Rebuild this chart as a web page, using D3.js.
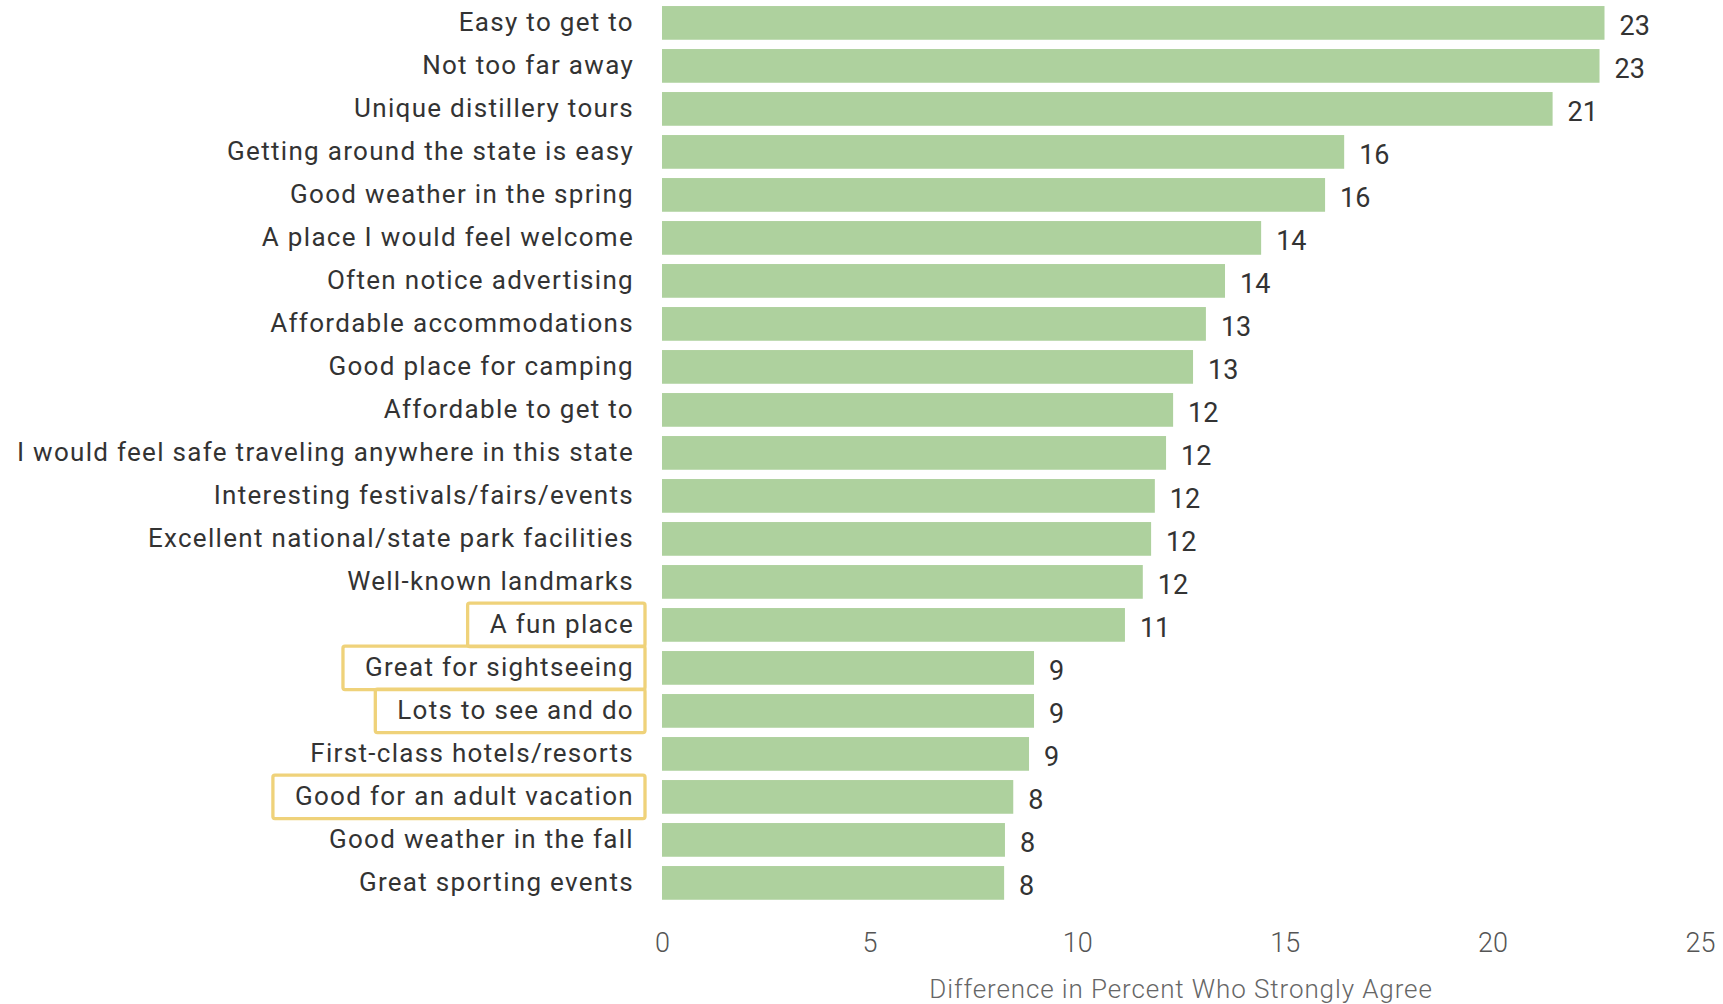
<!DOCTYPE html>
<html>
<head>
<meta charset="utf-8">
<script src="https://cdn.jsdelivr.net/npm/d3@7"></script>
<style>
  html, body { margin: 0; padding: 0; background: #fff; }
  svg { display: block; }
  .cat text { font-family: Roboto, "Noto Sans", sans-serif; font-size: 26px; fill: #333; letter-spacing: 1.3px; }
  .val { font-family: Roboto, "Noto Sans", sans-serif; font-size: 27px; fill: #333; }
  .xaxis text { font-family: Roboto, "Noto Sans", sans-serif; font-size: 27px; font-weight: 300; fill: #555; }
  .xtitle { font-family: Roboto, "Noto Sans", sans-serif; font-size: 26px; font-weight: 300; fill: #666; letter-spacing: 0.9px; }
</style>
</head>
<body>
<svg id="chart" width="1723" height="1004"></svg>
<script>
// Attributes, ordered from largest to smallest difference
const categories = [
  "Easy to get to",
  "Not too far away",
  "Unique distillery tours",
  "Getting around the state is easy",
  "Good weather in the spring",
  "A place I would feel welcome",
  "Often notice advertising",
  "Affordable accommodations",
  "Good place for camping",
  "Affordable to get to",
  "I would feel safe traveling anywhere in this state",
  "Interesting festivals/fairs/events",
  "Excellent national/state park facilities",
  "Well-known landmarks",
  "A fun place",
  "Great for sightseeing",
  "Lots to see and do",
  "First-class hotels/resorts",
  "Good for an adult vacation",
  "Good weather in the fall",
  "Great sporting events"
];

// Difference in percent who strongly agree
const values = [
  22.7, 22.58, 21.45, 16.43, 15.97, 14.43, 13.56, 13.1, 12.79, 12.31, 12.14,
  11.87, 11.78, 11.58, 11.15, 8.96, 8.96, 8.84, 8.46, 8.26, 8.24
];

const xTicks = [0, 5, 10, 15, 20, 25];

// Attributes called out with an outline
const highlighted = ["A fun place", "Great for sightseeing", "Lots to see and do", "Good for an adult vacation"];

const axisTitle = "Difference in Percent Who Strongly Agree";

const data = categories.map((c, i) => ({ category: c, value: values[i] }));

const svg = d3.select("#chart");

const x = d3.scaleLinear().domain([0, 25]).range([662, 1700]);
const y = d3.scaleBand()
  .domain(categories)
  .range([1.4, 904.4])
  .paddingInner(0.216)
  .paddingOuter(0.108);

// Bars
svg.append("g")
  .selectAll("rect")
  .data(data)
  .join("rect")
  .attr("x", x(0))
  .attr("y", d => y(d.category))
  .attr("width", d => x(d.value) - x(0))
  .attr("height", y.bandwidth())
  .attr("fill", "#aed19e");

// Value labels
const fmt = d3.format(".0f");
svg.append("g")
  .selectAll("text")
  .data(data)
  .join("text")
  .attr("class", "val")
  .attr("x", d => x(d.value) + 15)
  .attr("y", d => y(d.category) + y.bandwidth() / 2 + 2.5)
  .attr("dy", "0.35em")
  .text(d => fmt(d.value));

// Category axis
const catAxis = svg.append("g")
  .attr("class", "cat")
  .attr("transform", `translate(${x(0)},0)`)
  .call(d3.axisLeft(y).tickSize(0).tickPadding(28));
catAxis.select(".domain").remove();

// Outlines around highlighted categories
const boxG = svg.append("g");
catAxis.selectAll(".tick").each(function (d) {
  if (!highlighted.includes(d)) return;
  const t = d3.select(this).select("text").node();
  const bb = t.getBBox();
  const cy = y(d) + y.bandwidth() / 2;
  const left = x(0) + bb.x - 22;
  const right = 645;
  boxG.append("rect")
    .attr("x", left)
    .attr("y", cy - 21.7)
    .attr("width", right - left)
    .attr("height", 43.4)
    .attr("rx", 2)
    .attr("fill", "none")
    .attr("stroke", "#efd27a")
    .attr("stroke-width", 3.3);
});

// Value axis
const xAxis = svg.append("g")
  .attr("class", "xaxis")
  .attr("transform", "translate(0,925)")
  .call(d3.axisBottom(x).tickValues(xTicks).tickSize(0).tickPadding(8).tickFormat(d3.format("d")));
xAxis.select(".domain").remove();

svg.append("text")
  .attr("class", "xtitle")
  .attr("x", (x(0) + x(25)) / 2)
  .attr("y", 998)
  .attr("text-anchor", "middle")
  .text(axisTitle);
</script>
</body>
</html>
